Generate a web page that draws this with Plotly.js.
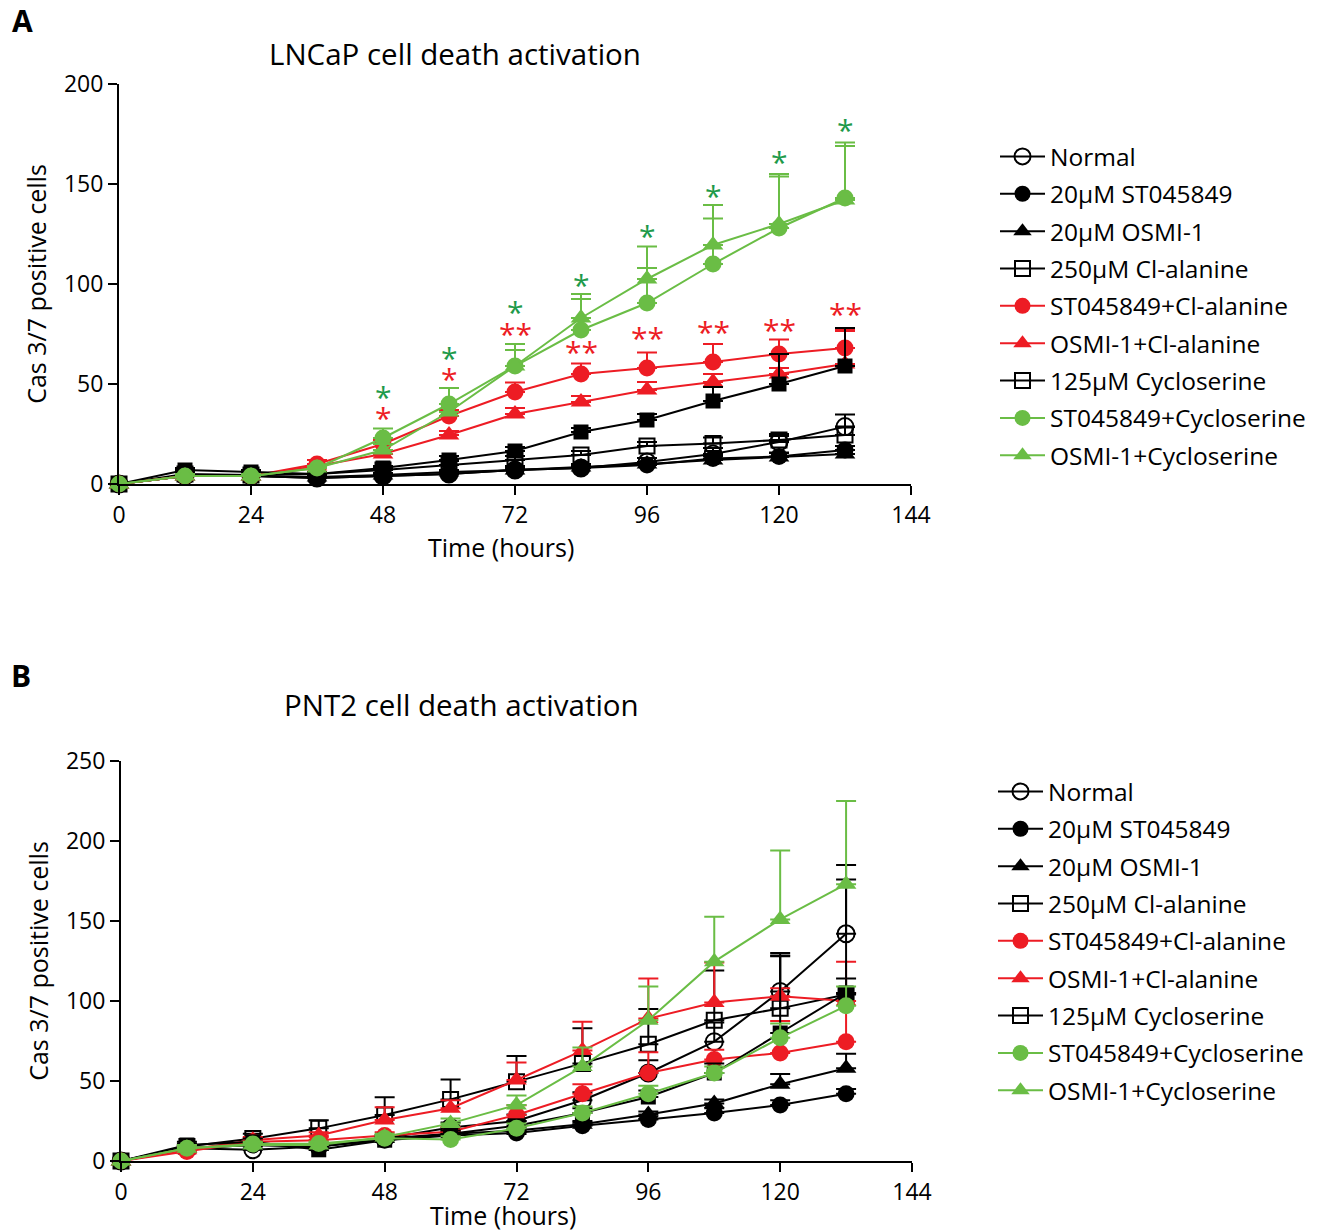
<!DOCTYPE html>
<html>
<head>
<meta charset="utf-8">
<script src="https://cdn.plot.ly/plotly-3.0.1.min.js"></script>
<style>html,body{margin:0;padding:0;background:#fff;}#chart{width:1320px;height:1232px;}</style>
</head>
<body>
<div id="chart"></div>
<script>
// ---------- DATA ----------
const time = [0, 12, 24, 36, 48, 60, 72, 84, 96, 108, 120, 132];
const seriesNames = ["Normal", "20µM ST045849", "20µM OSMI-1", "250µM Cl-alanine",
  "ST045849+Cl-alanine", "OSMI-1+Cl-alanine", "125µM Cycloserine",
  "ST045849+Cycloserine", "OSMI-1+Cycloserine"];

// Panel A: LNCaP
const normalA      = [0, 4, 4, 3, 4, 5, 7, 8, 11, 15, 21, 28.7];
const stA          = [0, 4, 4, 3, 4, 5, 7, 8, 9.5, 12.8, 13.7, 17];
const osmiA        = [0, 4, 4, 3.5, 4.5, 6, 7, 8.5, 10, 12, 13.5, 15];
const clA          = [0, 5, 4.5, 5, 7, 9.5, 12, 14.5, 19, 20.3, 22, 24.5];
const stClA        = [0, 4, 4, 10, 20, 34, 46, 55, 58, 61, 65, 68];
const osmiClA      = [0, 4, 4, 9, 15, 24.5, 35, 41, 47, 51, 55, 60];
const cycloA       = [0, 7, 6, 5, 8, 12, 16.5, 26, 32, 41.5, 50, 59];
const stCycloA     = [0, 4, 4, 8, 23, 40, 59, 77, 90.5, 110, 128, 143];
const osmiCycloA   = [0, 4, 4, 8, 17, 36, 59, 83, 102.5, 119.5, 130, 142];

const errNormalA    = [0, 1, 1, 1, 1, 1, 2, 2, 2, 3, 3, 6];
const errStA        = [0, 1, 1, 1, 1, 1, 1, 1, 1, 2, 2, 2];
const errOsmiA      = [0, 1, 1, 1, 1, 1, 1, 1, 1, 2, 2, 2];
const errClA        = [0, 1, 1, 1, 1, 2, 2, 2, 2, 3, 3, 4];
const errStClA      = [0, 1, 1, 2, 2, 3, 4.7, 5.3, 7.8, 9, 7.3, 9];
const errOsmiClA    = [0, 1, 1, 1, 2, 2, 3, 3, 4, 4, 3, 16.5];
const errCycloA     = [0, 1, 1, 1, 1, 2, 2, 2, 3, 7, 15, 19];
const errStCycloA   = [0, 1, 1, 1, 4.8, 8, 8, 15.5, 17.5, 22.8, 25.7, 27.8];
const errOsmiCycloA = [0, 1, 1, 1, 3, 4, 11, 12, 16.2, 20, 25, 27];

// Panel A significance marks
const sigTimes   = [48, 60, 72, 84, 96, 108, 120, 132];
const sigGreenY  = [45.5, 65, 88, 101.5, 126, 146, 163, 179];
const sigGreenTx = ["*", "*", "*", "*", "*", "*", "*", "*"];
const sigRedY    = [35, 54.5, 77, 68, 75, 78, 79, 87];
const sigRedTx   = ["*", "*", "**", "**", "**", "**", "**", "**"];

// Panel B: PNT2
const normalB      = [0, 8, 7, 9, 14, 21, 25, 38, 55, 74.6, 106, 142];
const stB          = [0, 8, 10, 9, 13, 16, 17.5, 22, 26, 30, 35, 42];
const osmiB        = [0, 8, 10, 9, 14, 17, 19, 23, 29, 36, 48, 58];
const clB          = [0, 9, 14, 20.4, 28.8, 38.5, 49.6, 61, 73, 88, 95.4, 104];
const stClB        = [0, 6, 12, 13, 16, 18.3, 28.8, 42, 55, 63.5, 67.5, 74.6];
const osmiClB      = [0, 7, 13, 16, 25.6, 33, 50.6, 69, 89, 99, 103, 100];
const cycloB       = [0, 10, 12, 7, 13, 17, 22, 30, 40, 55, 80, 105];
const stCycloB     = [0, 8, 10.6, 11, 14.2, 13.5, 20.4, 30, 42, 55, 77, 97];
const osmiCycloB   = [0, 8, 10, 10, 15, 23.5, 35, 59, 88, 124.6, 151, 173];

const errNormalB    = [0, 2, 2, 2, 2, 3, 4, 5, 8, 12, 24, 43];
const errStB        = [0, 1, 1, 1, 1, 2, 2, 2, 2, 3, 3, 3];
const errOsmiB      = [0, 1, 1, 1, 2, 2, 2, 2, 2, 2.5, 6.4, 9];
const errClB        = [0, 2, 3, 5, 11, 12.5, 16, 22, 22, 31, 33, 10];
const errStClB      = [0, 2, 2, 2, 2, 3, 6, 6, 13, 6, 20, 50];
const errOsmiClB    = [0, 2, 2, 2, 8, 5, 11, 18, 25, 25, 5, 5];
const errCycloB     = [0, 2, 2, 2, 2, 2, 3, 3, 4, 6, 48, 71];
const errStCycloB   = [0, 1, 1, 1, 2, 2, 3, 4, 5, 4, 9, 12];
const errOsmiCycloB = [0, 2, 2, 2, 2, 3, 6, 12, 21, 28, 43, 52];

const xTicks = [0, 24, 48, 72, 96, 120, 144];

// ---------- STYLE ----------
const BLACK = "#000000", RED = "#ed1c24", GREEN = "#6abd45";
const SIG_GREEN = "#1e9a4a", SIG_RED = "#ed1c24";
const FONT = "Open Sans, Noto Sans, sans-serif";
const styles = [
  {color: BLACK, symbol: "circle-open"},
  {color: BLACK, symbol: "circle"},
  {color: BLACK, symbol: "triangle-up"},
  {color: BLACK, symbol: "square-open"},
  {color: RED,   symbol: "circle"},
  {color: RED,   symbol: "triangle-up"},
  {color: BLACK, symbol: "square"},
  {color: GREEN, symbol: "circle"},
  {color: GREEN, symbol: "triangle-up"}
];

const dataA = [normalA, stA, osmiA, clA, stClA, osmiClA, cycloA, stCycloA, osmiCycloA];
const errA  = [errNormalA, errStA, errOsmiA, errClA, errStClA, errOsmiClA, errCycloA, errStCycloA, errOsmiCycloA];
const dataB = [normalB, stB, osmiB, clB, stClB, osmiClB, cycloB, stCycloB, osmiCycloB];
const errB  = [errNormalB, errStB, errOsmiB, errClB, errStClB, errOsmiClB, errCycloB, errStCycloB, errOsmiCycloB];

function markerFor(st, size) {
  const open = st.symbol.indexOf("open") >= 0;
  return {
    symbol: st.symbol,
    color: st.color,
    size: st.symbol.indexOf("square") >= 0 ? size - 2 : (st.symbol.indexOf("triangle") >= 0 ? size + 1 : size),
    line: {color: st.color, width: open ? 2 : 0}
  };
}

function buildTraces(data, err, xa, ya, legendId) {
  const traces = [];
  data.forEach((vals, i) => {
    const st = styles[i];
    const zeros = vals.map(() => 0);
    const grp = legendId + "_" + i;
    // 125µM Cycloserine: drawn with filled squares, listed in legend with an open square
    const isCyclo = (i === 6);
    traces.push({
      type: "scatter", mode: "lines+markers",
      x: time, y: vals, xaxis: xa, yaxis: ya,
      name: seriesNames[i],
      legend: legendId, legendrank: i + 1, legendgroup: grp,
      showlegend: !isCyclo,
      cliponaxis: false,
      line: {color: st.color, width: 2},
      marker: markerFor(st, 17),
      error_y: {type: "data", symmetric: false, array: err[i], arrayminus: zeros,
                color: st.color, thickness: 2, width: 10}
    });
    if (isCyclo) {
      traces.push({
        type: "scatter", mode: "lines+markers",
        x: [null], y: [null], xaxis: xa, yaxis: ya,
        name: seriesNames[i], legend: legendId, legendrank: i + 1, legendgroup: grp,
        showlegend: true,
        line: {color: st.color, width: 2},
        marker: markerFor({color: st.color, symbol: "square-open"}, 17)
      });
    }
  });
  return traces;
}

const traces = buildTraces(dataA, errA, "x", "y", "legend")
  .concat(buildTraces(dataB, errB, "x2", "y2", "legend2"));

const W = 1320, H = 1232;
function px(v) { return v / W; }
function py(v) { return 1 - v / H; }

const axisCommon = {
  showline: true, linecolor: BLACK, linewidth: 2,
  ticks: "outside", ticklen: 9, tickwidth: 2, tickcolor: BLACK,
  showgrid: false, zeroline: false,
  tickfont: {family: FONT, size: 23, color: BLACK},
  title: {font: {family: FONT, size: 25, color: BLACK}},
  fixedrange: true
};

function axis(extra) {
  const a = JSON.parse(JSON.stringify(axisCommon));
  Object.keys(extra).forEach(k => {
    if (k === "title") a.title = Object.assign(a.title, extra.title);
    else a[k] = extra[k];
  });
  return a;
}

const annotations = [];
sigTimes.forEach((t, i) => {
  annotations.push({xref: "x", yref: "y", x: t, y: sigGreenY[i], text: sigGreenTx[i],
    showarrow: false, yanchor: "middle", yshift: -4,
    font: {family: FONT, size: 30, color: SIG_GREEN}});
  annotations.push({xref: "x", yref: "y", x: t, y: sigRedY[i], text: sigRedTx[i],
    showarrow: false, yanchor: "middle", yshift: -4,
    font: {family: FONT, size: 30, color: SIG_RED}});
});
annotations.push(
  {xref: "paper", yref: "paper", x: px(455), y: py(53), text: "LNCaP cell death activation",
   showarrow: false, xanchor: "center", yanchor: "middle", font: {family: FONT, size: 29.5, color: BLACK}},
  {xref: "paper", yref: "paper", x: px(461), y: py(704), text: "PNT2 cell death activation",
   showarrow: false, xanchor: "center", yanchor: "middle", font: {family: FONT, size: 29.5, color: BLACK}},
  {xref: "paper", yref: "paper", x: px(22), y: py(20), text: "<b>A</b>",
   showarrow: false, xanchor: "center", yanchor: "middle", font: {family: FONT, size: 30, color: BLACK}},
  {xref: "paper", yref: "paper", x: px(21), y: py(675), text: "<b>B</b>",
   showarrow: false, xanchor: "center", yanchor: "middle", font: {family: FONT, size: 30, color: BLACK}},
  {xref: "paper", yref: "paper", x: px(501), y: py(547), text: "Time (hours)",
   showarrow: false, xanchor: "center", yanchor: "middle", font: {family: FONT, size: 25, color: BLACK}},
  {xref: "paper", yref: "paper", x: px(503), y: py(1215), text: "Time (hours)",
   showarrow: false, xanchor: "center", yanchor: "middle", font: {family: FONT, size: 25, color: BLACK}}
);

const legendCommon = {
  font: {family: FONT, size: 24.5, color: BLACK},
  bgcolor: "rgba(0,0,0,0)", borderwidth: 0, itemwidth: 45,
  xanchor: "left", yanchor: "top", traceorder: "grouped", tracegroupgap: 2.5, itemclick: false
};

const layout = {
  width: W, height: H,
  margin: {l: 0, r: 0, t: 0, b: 0},
  paper_bgcolor: "#ffffff", plot_bgcolor: "#ffffff",
  font: {family: FONT, color: BLACK},
  xaxis: axis({domain: [px(119), px(911)], range: [0, 144], tickvals: xTicks, anchor: "y"}),
  yaxis: axis({domain: [py(484), py(84)], range: [0, 200], dtick: 50, tick0: 0, anchor: "x",
               title: {text: "Cas 3/7 positive cells", standoff: 10}}),
  xaxis2: axis({domain: [px(121), px(912)], range: [0, 144], tickvals: xTicks, anchor: "y2"}),
  yaxis2: axis({domain: [py(1161), py(761)], range: [0, 250], dtick: 50, tick0: 0, anchor: "x2",
                title: {text: "Cas 3/7 positive cells", standoff: 10}}),
  legend: Object.assign({x: px(995), y: py(134)}, legendCommon),
  legend2: Object.assign({x: px(993), y: py(769)}, legendCommon),
  annotations: annotations,
  showlegend: true
};

Plotly.newPlot("chart", traces, layout, {displayModeBar: false, staticPlot: true});
</script>
</body>
</html>
